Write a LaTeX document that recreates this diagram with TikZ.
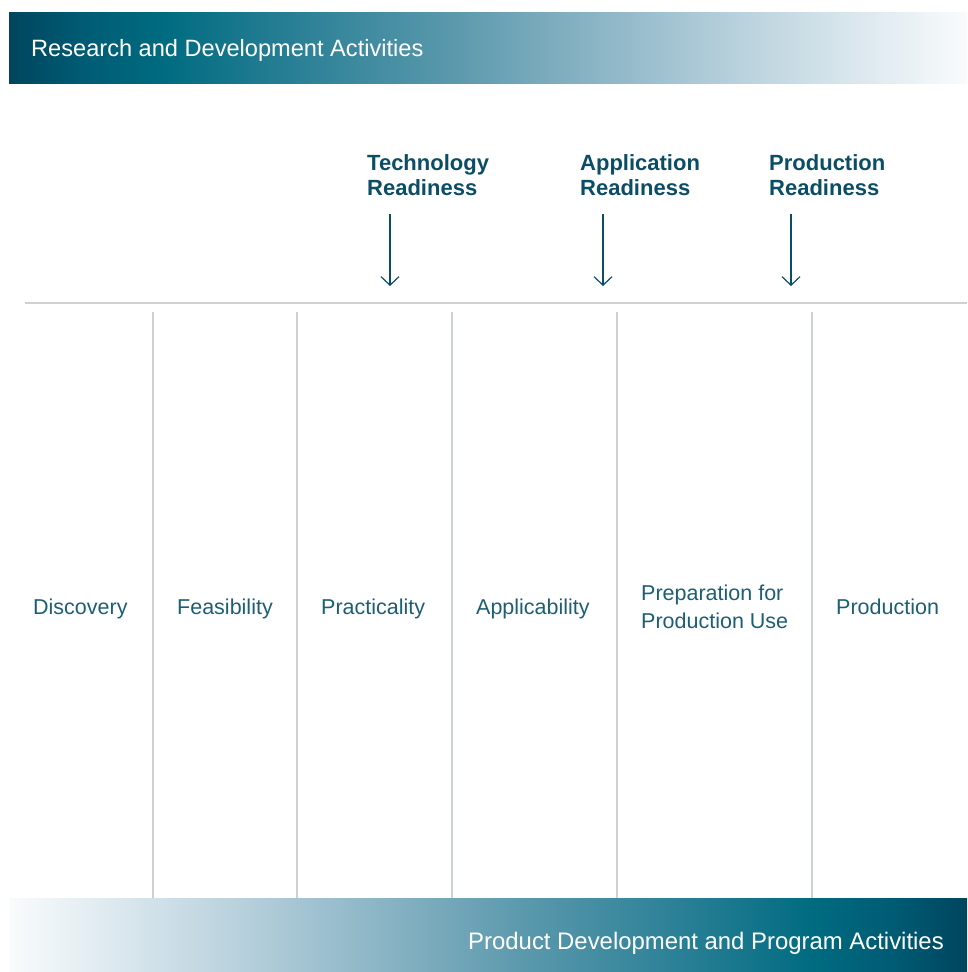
\documentclass[tikz,border=0pt]{standalone}
\usepackage{fontspec}
\setmainfont{Liberation Sans}
\usetikzlibrary{arrows.meta}
\definecolor{headc}{HTML}{0B4D66}
\definecolor{labc}{HTML}{1C5E74}
\definecolor{gridc}{HTML}{CDD1D4}
\definecolor{g0}{HTML}{00455E}
\definecolor{g1}{HTML}{005C74}
\definecolor{g2}{HTML}{006B80}
\definecolor{g3}{HTML}{2A8096}
\definecolor{g4}{HTML}{5A98AC}
\definecolor{g5}{HTML}{8DB6C6}
\definecolor{g6}{HTML}{B8D1DC}
\definecolor{g7}{HTML}{DFEAF0}
\definecolor{g8}{HTML}{F9FBFC}
\pgfdeclarehorizontalshading{topgrad}{100bp}{color(0bp)=(g0); color(25bp)=(g0); color(29bp)=(g1); color(33bp)=(g2); color(40bp)=(g3); color(48bp)=(g4); color(56bp)=(g5); color(63bp)=(g6); color(70bp)=(g7); color(75bp)=(g8); color(100bp)=(g8)}
\pgfdeclarehorizontalshading{botgrad}{100bp}{color(0bp)=(g8); color(25bp)=(g8); color(30bp)=(g7); color(37bp)=(g6); color(44bp)=(g5); color(52bp)=(g4); color(60bp)=(g3); color(67bp)=(g2); color(71bp)=(g1); color(75bp)=(g0); color(100bp)=(g0)}
\tikzset{
  bannertext/.style={text=white, font=\fontsize{23.6}{28}\selectfont, inner sep=0pt},
  headtext/.style={text=headc, font=\bfseries\fontsize{22}{25}\selectfont, inner sep=0pt, anchor=base west},
  labtext/.style={text=labc, font=\fontsize{21.5}{28}\selectfont, inner sep=0pt, anchor=base west},
  gridline/.style={draw=gridc, line width=1.5pt},
  readyarrow/.style={draw=headc, line width=1.2pt, -{Straight Barb[length=8.5pt,width=18pt,line width=1.2pt]}}
}
\begin{document}
\begin{tikzpicture}[x=1pt,y=-1pt]
\useasboundingbox (0,0) rectangle (967,972);
% banners
\shade[shading=topgrad] (9,12) rectangle (967,83);
\shade[shading=botgrad] (9,898) rectangle (967,971);
\node[bannertext, anchor=base west] (rd) at (31,56) {Research and Development Activities};
\node[bannertext, anchor=base east, font=\fontsize{23.9}{28}\selectfont] (pd) at (944,949) {Product Development and Program Activities};
% grid
\coordinate (hl) at (25,303);
\coordinate (hr) at (967,303);
\draw[gridline] (hl) -- (hr);
\foreach \x [count=\i] in {153,297,452,617,812}{
  \coordinate (vt\i) at (\x,312);
  \coordinate (vb\i) at (\x,898);
  \draw[gridline] (vt\i) -- (vb\i);
}
% headings
\node[headtext] (tr1) at (367,170) {Technology};
\node[headtext] (tr2) at (367,195) {Readiness};
\node[headtext] (ar1) at (580,170) {Application};
\node[headtext] (ar2) at (580,195) {Readiness};
\node[headtext] (pr1) at (769,170) {Production};
\node[headtext] (pr2) at (769,195) {Readiness};
% arrows
\coordinate (ta) at (390,214); \coordinate (tb) at (390,286);
\coordinate (aa) at (603,214); \coordinate (ab) at (603,286);
\coordinate (pa) at (791,214); \coordinate (pb) at (791,286);
\draw[readyarrow] (ta) -- (tb);
\draw[readyarrow] (aa) -- (ab);
\draw[readyarrow] (pa) -- (pb);
% column labels
\node[labtext] (c1) at (33,614) {Discovery};
\node[labtext] (c2) at (177,614) {Feasibility};
\node[labtext] (c3) at (321,614) {Practicality};
\node[labtext] (c4) at (476,614) {Applicability};
\node[labtext] (c5a) at (641,600) {Preparation for};
\node[labtext] (c5b) at (641,628) {Production Use};
\node[labtext] (c6) at (836,614) {Production};
\end{tikzpicture}
\end{document}
